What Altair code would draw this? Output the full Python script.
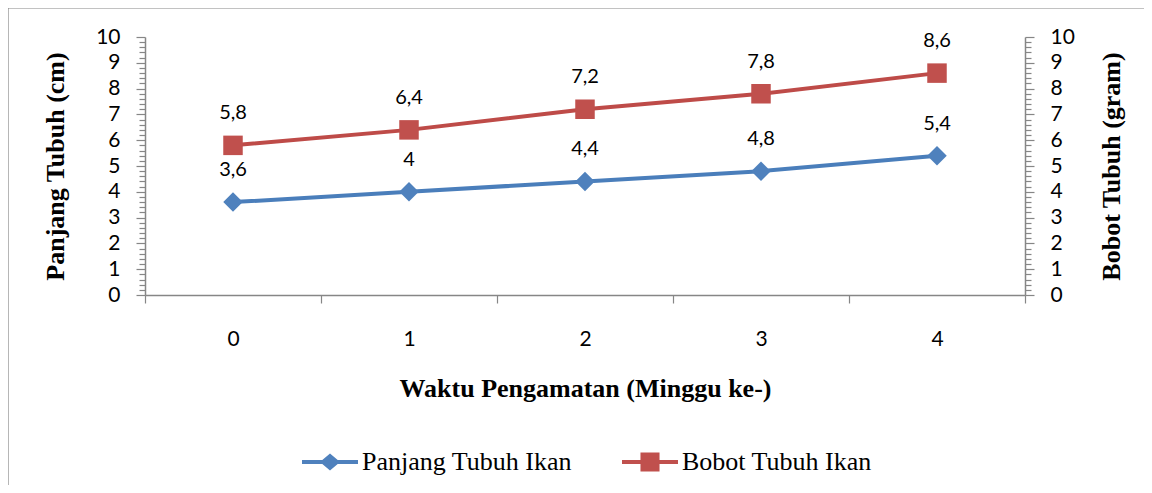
import altair as alt
import pandas as pd

# ---- data ----
weeks = [0, 1, 2, 3, 4]
panjang = [3.6, 4.0, 4.4, 4.8, 5.4]
bobot = [5.8, 6.4, 7.2, 7.8, 8.6]
series_names = ["Panjang Tubuh Ikan", "Bobot Tubuh Ikan"]
y_ticks = [round(i * 0.2, 1) for i in range(51)]


def lab(v):
    return format(v, "g").replace(".", ",")


df = pd.DataFrame({
    "week": weeks,
    "panjang": panjang,
    "bobot": bobot,
    "panjang_lab": [lab(v) for v in panjang],
    "bobot_lab": [lab(v) for v in bobot],
})
legend_df = pd.DataFrame({"series": series_names})

# ---- styles ----
AX = "#868686"
SANS = "Lato"
SERIF = "Liberation Serif"
BLUE_L, BLUE_M = "#4A7EBB", "#4F81BD"
RED_L, RED_M = "#BE4B48", "#C0504D"

W, H = 880, 258
tick_cond = {"condition": {"test": "abs(datum.value - round(datum.value)) < 0.001", "value": 9}, "value": 6}
int_label = "abs(datum.value - round(datum.value)) < 0.001 ? format(datum.value, 'd') : ''"

x_enc = alt.X(
    "week:O",
    scale=alt.Scale(type="band", paddingInner=0, paddingOuter=0),
    axis=alt.Axis(
        title="Waktu Pengamatan (Minggu ke-)", tickBand="extent", labelAngle=0,
        tickSize=8, labelPadding=25, titlePadding=26,
    ),
)


def y_enc(field, orient, title):
    if orient == "left":
        ax = alt.Axis(
            orient="left", title=title, values=y_ticks, labelExpr=int_label,
            labelOverlap=False, tickSize=tick_cond, labelPadding=16,
            titlePadding=27, titleAngle=270,
        )
    else:
        ax = alt.Axis(
            orient="right", title=title, values=y_ticks, labelExpr=int_label,
            labelOverlap=False, tickSize=tick_cond, labelPadding=16,
            titlePadding=24, titleAngle=270, titleBaseline="top",
        )
    return alt.Y(
        f"{field}:Q",
        scale=alt.Scale(domain=[0, 10], nice=False, zero=True),
        axis=ax,
    )


def series(field, labfield, orient, title, lcol, mcol, shape, size):
    base = alt.Chart(df).encode(x=x_enc, y=y_enc(field, orient, title))
    line = base.mark_line(color=lcol, strokeWidth=4)
    pts = base.mark_point(shape=shape, size=size, filled=True, color=mcol, opacity=1)
    txt = base.mark_text(dy=-32, font=SANS, fontSize=20, color="black").encode(text=f"{labfield}:N")
    return alt.layer(line, pts, txt)


left = series("panjang", "panjang_lab", "left", "Panjang Tubuh (cm)", BLUE_L, BLUE_M, "diamond", 380)
right = series("bobot", "bobot_lab", "right", "Bobot Tubuh (gram)", RED_L, RED_M, "square", 380)

frame = alt.Chart(alt.Data(values=[{"a": 1}])).mark_rect(
    fill=None, stroke=AX, strokeWidth=1.2
).encode(x=alt.value(-137), x2=alt.value(1300), y=alt.value(-29), y2=alt.value(700))

blue_path = "M-1,-0.07L1,-0.07L1,0.07L-1,0.07Z M0,-0.3L0.36,0L0,0.3L-0.36,0Z"
red_path = "M-1,-0.07L1,-0.07L1,0.07L-1,0.07Z M-0.34,-0.34L0.34,-0.34L0.34,0.34L-0.34,0.34Z"

leg = alt.Legend(
    orient="none", legendX=157, legendY=397, direction="horizontal", title=None,
    symbolSize=3136, labelFont=SERIF, labelFontSize=26, labelColor="black",
    labelOffset=4, columnPadding=50, symbolStrokeWidth=0, symbolOpacity=1,
    padding=0, labelLimit=500,
)

legend_layer = alt.Chart(legend_df).transform_filter("false").mark_point(
    filled=True, opacity=1
).encode(
    color=alt.Color(
        "series:N",
        scale=alt.Scale(domain=series_names, range=[BLUE_M, RED_M]),
        legend=leg,
    ),
    shape=alt.Shape(
        "series:N",
        scale=alt.Scale(domain=series_names, range=[blue_path, red_path]),
        legend=leg,
    ),
)

chart = alt.layer(frame, left, right, legend_layer).resolve_scale(y="independent").properties(
    width=W, height=H,
    autosize=alt.AutoSizeParams(type="none"),
    padding={"left": 137, "top": 29, "right": 119, "bottom": 190},
    background="white",
).configure_view(stroke=None).configure_axis(
    grid=False, domainColor=AX, domainWidth=1.5, tickColor=AX, tickWidth=1.2,
    labelFont=SANS, labelFontSize=21, labelColor="black",
    titleFont=SERIF, titleFontSize=26, titleFontWeight="bold", titleColor="black",
)

chart.save("out.html", embed_options={"renderer": "svg", "actions": False})
